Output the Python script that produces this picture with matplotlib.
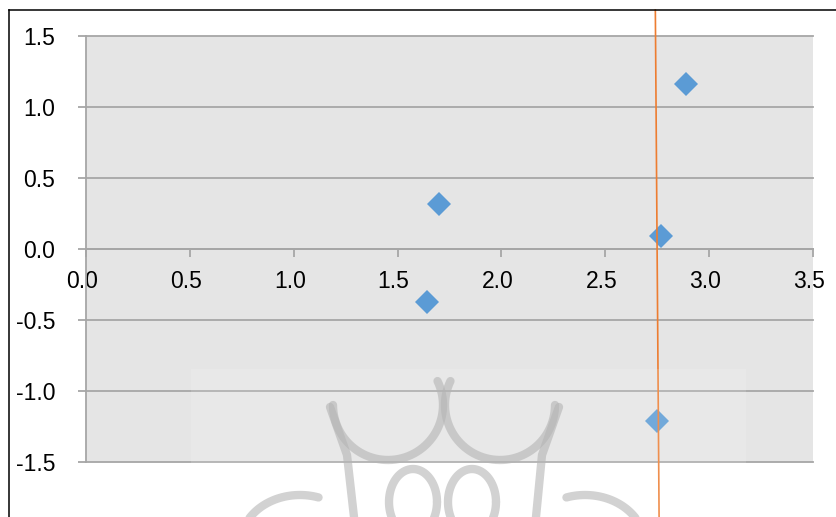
import numpy as np
import matplotlib
matplotlib.use('Agg')
import matplotlib.pyplot as plt
import matplotlib.transforms as mtransforms
from matplotlib.patches import Rectangle

# data
px = [1.70, 2.89, 2.77, 1.64, 2.75]
py = [0.32, 1.16, 0.09, -0.37, -1.21]
line_x = [2.741, 2.759]
line_y = [1.683, -1.887]
xticks = [0.0, 0.5, 1.0, 1.5, 2.0, 2.5, 3.0, 3.5]
yticks = [-1.5, -1.0, -0.5, 0.0, 0.5, 1.0, 1.5]

plt.rcParams['font.family'] = ['Liberation Sans', 'DejaVu Sans']
plt.rcParams['font.size'] = 16.5

W, H = 836, 517
fig = plt.figure(figsize=(W / 100, H / 100), dpi=100)
fig.patch.set_facecolor('white')

ax = fig.add_axes([86 / W, (H - 462) / H, 727 / W, 426 / H])
ax.set_facecolor('#e5e5e5')
gcol = '#a6a6a6'

ax.plot(px, py, 'D', color='#5b9bd5', markersize=12.5, markeredgewidth=0, zorder=3)
ax.plot(line_x, line_y, color='#ed7d31', lw=1.2, zorder=4, clip_on=False)

ax.set_xlim(0, 3.5)
ax.set_ylim(-1.5, 1.5)
ax.set_xticks(xticks)
ax.set_yticks(yticks)
ax.set_xticklabels(['%.1f' % v for v in xticks])
ax.set_yticklabels(['%.1f' % v for v in yticks])

for s in ['top', 'right']:
    ax.spines[s].set_visible(False)
ax.spines['bottom'].set_position(('data', 0))
ax.spines['bottom'].set_color(gcol)
ax.spines['bottom'].set_linewidth(1.3)
ax.spines['left'].set_color(gcol)
ax.spines['left'].set_linewidth(1.3)

ax.yaxis.grid(True, color=gcol, lw=1.3)
ax.set_axisbelow(True)
for gl in ax.get_ygridlines():
    gl.set_clip_on(False)

ax.tick_params(axis='y', direction='out', length=6, width=1.3, color=gcol, pad=16)
ax.tick_params(axis='x', direction='out', length=5.5, width=1.3, color=gcol, pad=9.5)

shift = mtransforms.ScaledTranslation(-4 / 100, 0, fig.dpi_scale_trans)
for lab in ax.get_xticklabels():
    lab.set_transform(lab.get_transform() + shift)

# overlay in pixel coords: frame and faint watermark
ov = fig.add_axes([0, 0, 1, 1], zorder=5)
ov.set_xlim(0, W)
ov.set_ylim(H, 0)
ov.axis('off')
ov.patch.set_alpha(0)

ov.plot([8.5, 8.5], [10, H], color='black', lw=1.1)
ov.plot([8.5, W], [10, 10], color='black', lw=1.1)

ov.add_patch(Rectangle((191, 369), 555, 148, facecolor='white', alpha=0.14, lw=0))

wm = dict(color='#b4b4b4', alpha=0.6, lw=6, solid_capstyle='round')
t = np.linspace(-0.45, np.pi, 60)
ov.plot(388 + 55 * np.cos(t), 405 + 55 * np.sin(t), **wm)
t = np.linspace(0, np.pi + 0.45, 60)
ov.plot(500 + 55 * np.cos(t), 405 + 55 * np.sin(t), **wm)
ov.plot([330, 347, 354], [407, 455, 517], **wm)
ov.plot([559, 542, 536], [407, 455, 517], **wm)
t = np.linspace(0, 2 * np.pi, 80)
ov.plot(413 + 24 * np.cos(t), 502 + 33 * np.sin(t), **wm)
ov.plot(472 + 24 * np.cos(t), 502 + 33 * np.sin(t), **wm)
t = np.linspace(np.pi * 1.05, np.pi * 1.6, 40)
ov.plot(300 + 60 * np.cos(t), 545 + 50 * np.sin(t), **wm)
ov.plot(585 - 60 * np.cos(t), 545 + 50 * np.sin(t), **wm)

fig.savefig('out.png', dpi=100)
